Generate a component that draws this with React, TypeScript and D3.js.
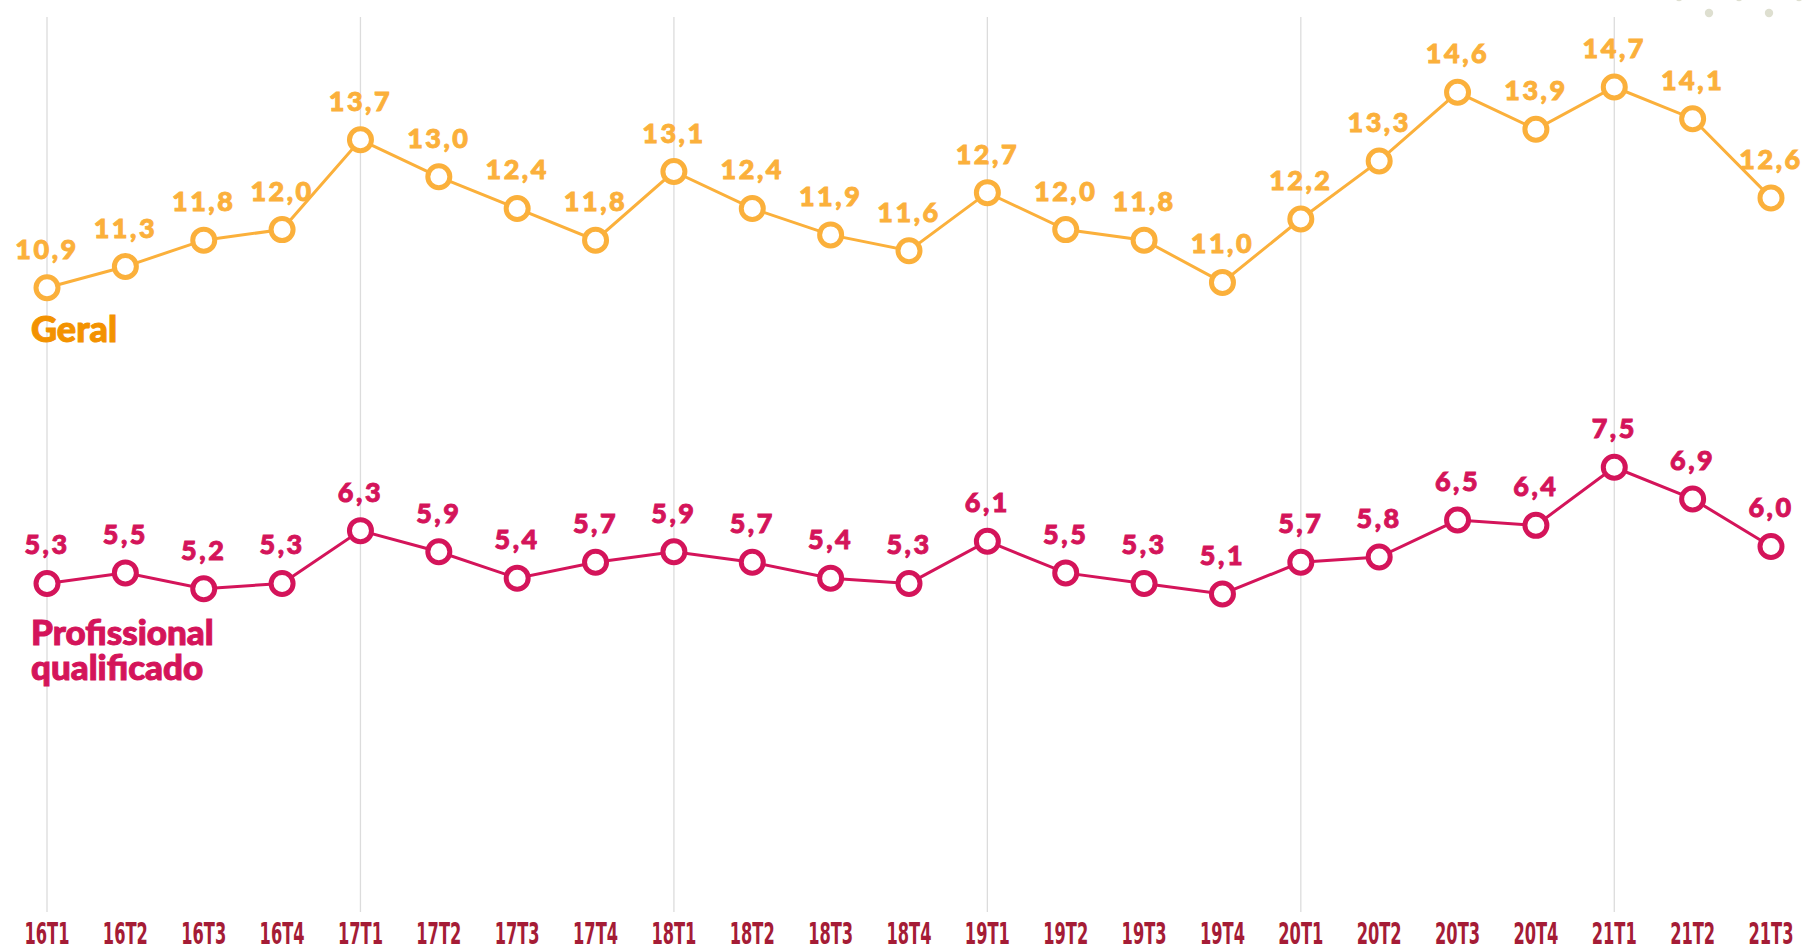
import React, { useEffect, useRef } from 'react';
import * as d3 from 'd3';

const quarters = [
  '16T1', '16T2', '16T3', '16T4', '17T1', '17T2', '17T3', '17T4',
  '18T1', '18T2', '18T3', '18T4', '19T1', '19T2', '19T3', '19T4',
  '20T1', '20T2', '20T3', '20T4', '21T1', '21T2', '21T3'
];
const geral = [10.9, 11.3, 11.8, 12.0, 13.7, 13.0, 12.4, 11.8, 13.1, 12.4, 11.9, 11.6, 12.7, 12.0, 11.8, 11.0, 12.2, 13.3, 14.6, 13.9, 14.7, 14.1, 12.6];
const profissional = [5.3, 5.5, 5.2, 5.3, 6.3, 5.9, 5.4, 5.7, 5.9, 5.7, 5.4, 5.3, 6.1, 5.5, 5.3, 5.1, 5.7, 5.8, 6.5, 6.4, 7.5, 6.9, 6.0];
const seriesNames = ['Geral', 'Profissional qualificado'];

const W = 1819;
const H = 951;
const valueFont = 'Lato, "Open Sans", sans-serif';
const tickFont = '"Liberation Sans Narrow", "DejaVu Sans Condensed", sans-serif';

export default function App() {
  const ref = useRef<SVGSVGElement>(null);

  useEffect(() => {
    document.body.style.margin = '0';
    const svg = d3.select(ref.current);
    svg.selectAll('*').remove();

    const x = d3.scalePoint<string>().domain(quarters).range([47, 1771]);
    const y = d3.scaleLinear().domain([5.1, 14.7]).range([594, 87]);

    // decorative dots top right
    const dots = [[1679, -3], [1739, -3], [1799, -3], [1709, 13], [1769, 13]];
    svg.selectAll('circle.deco').data(dots).enter().append('circle')
      .attr('cx', d => d[0]).attr('cy', d => d[1]).attr('r', 4.2)
      .attr('fill', '#dedfd0');

    // vertical gridlines at each T1
    svg.selectAll('line.grid')
      .data(quarters.filter(q => q.endsWith('T1')))
      .enter().append('line')
      .attr('x1', d => x(d)!).attr('x2', d => x(d)!)
      .attr('y1', 17).attr('y2', 912)
      .attr('stroke', '#dcdcdc').attr('stroke-width', 1.3);

    // x tick labels
    svg.selectAll('text.tick').data(quarters).enter().append('text')
      .attr('x', d => x(d)!).attr('y', 944)
      .attr('text-anchor', 'middle')
      .attr('textLength', 45).attr('lengthAdjust', 'spacingAndGlyphs')
      .style('font-family', tickFont).style('font-weight', 700)
      .style('font-size', '30px').style('fill', '#a51c36')
      .text(d => d);

    const series = [
      { values: geral, color: '#fbb03b', label: '#f39200' },
      { values: profissional, color: '#d4145a', label: '#d4145a' }
    ];

    const line = d3.line<number>()
      .x((_, i) => x(quarters[i])!)
      .y(d => y(d));

    series.forEach(s => {
      const g = svg.append('g');
      g.append('path').datum(s.values)
        .attr('d', line).attr('fill', 'none')
        .attr('stroke', s.color).attr('stroke-width', 3);

      g.selectAll('circle').data(s.values).enter().append('circle')
        .attr('cx', (_, i) => x(quarters[i])!).attr('cy', d => y(d))
        .attr('r', 11).attr('fill', '#fff')
        .attr('stroke', s.color).attr('stroke-width', 5);

      g.selectAll('text').data(s.values).enter().append('text')
        .attr('x', (_, i) => x(quarters[i])!).attr('y', d => y(d) - 29)
        .attr('text-anchor', 'middle')
        .style('font-family', valueFont).style('font-weight', 900)
        .style('font-size', '27px').style('letter-spacing', '2.5px')
        .style('fill', s.color).style('stroke', s.color).style('stroke-width', 0.9)
        .text(d => d.toFixed(1).replace('.', ','));
    });

    // series names
    svg.append('text').attr('x', 31).attr('y', 342)
      .style('font-family', valueFont).style('font-weight', 900)
      .style('font-size', '36px').style('fill', '#f39200')
      .style('stroke', '#f39200').style('stroke-width', 1)
      .text(seriesNames[0]);

    const words = seriesNames[1].split(' ');
    const t = svg.append('text').attr('x', 31).attr('y', 645)
      .style('font-family', valueFont).style('font-weight', 900)
      .style('font-size', '35px').style('fill', '#d4145a')
      .style('stroke', '#d4145a').style('stroke-width', 1);
    words.forEach((w, i) => {
      t.append('tspan').attr('x', 31).attr('dy', i === 0 ? 0 : 35).text(w);
    });
  }, []);

  return <svg ref={ref} width={W} height={H} style={{ display: 'block' }} />;
}
